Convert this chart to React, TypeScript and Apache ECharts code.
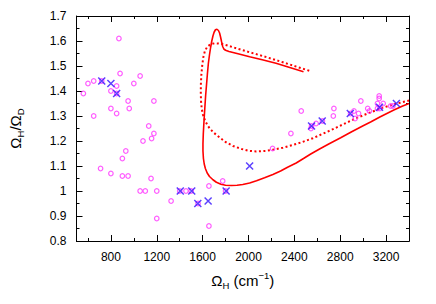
import React, { useEffect, useRef } from 'react';
import * as echarts from 'echarts';

const xMin = 500;
const xMax = 3400;
const xMajorTicks = [800, 1200, 1600, 2000, 2400, 2800, 3200];
const xMinorTicks = [600, 1000, 1400, 1800, 2200, 2600, 3000, 3400];
const yMin = 0.8;
const yMax = 1.7;
const yInterval = 0.1;

const solidCurve: number[][] = [
  [2480, 1.477], [2360, 1.494], [2240, 1.511], [2120, 1.525], [2010, 1.537], [1900, 1.550],
  [1830, 1.558], [1800, 1.563], [1785, 1.568], [1775, 1.578], [1765, 1.598], [1757, 1.615],
  [1748, 1.632], [1738, 1.642], [1725, 1.647], [1712, 1.645], [1700, 1.635], [1690, 1.620],
  [1680, 1.600], [1670, 1.575], [1660, 1.545], [1650, 1.510], [1642, 1.470], [1634, 1.425],
  [1626, 1.380], [1619, 1.330], [1612, 1.280], [1606, 1.230], [1603, 1.190], [1603, 1.160],
  [1607, 1.130], [1614, 1.108], [1624, 1.090], [1640, 1.072], [1660, 1.058], [1690, 1.045],
  [1720, 1.035], [1760, 1.027], [1800, 1.023], [1850, 1.022], [1900, 1.023], [1950, 1.026],
  [2010, 1.032], [2070, 1.041], [2140, 1.053], [2213, 1.066], [2280, 1.080], [2341, 1.095],
  [2416, 1.112], [2480, 1.130], [2543, 1.148], [2620, 1.168], [2700, 1.188], [2804, 1.213],
  [2900, 1.237], [3000, 1.261], [3065, 1.276], [3150, 1.297], [3268, 1.324], [3340, 1.339],
  [3400, 1.350],
];

const dottedCurve: number[][] = [
  [2530, 1.481], [2420, 1.497], [2300, 1.515], [2160, 1.535], [2010, 1.555], [1900, 1.570],
  [1830, 1.580], [1778, 1.587], [1740, 1.590], [1706, 1.591], [1670, 1.587], [1640, 1.577],
  [1620, 1.560], [1606, 1.535], [1596, 1.500], [1589, 1.465], [1585, 1.430], [1584, 1.395],
  [1586, 1.360], [1592, 1.330], [1603, 1.305], [1620, 1.283], [1640, 1.265], [1662, 1.250],
  [1700, 1.232], [1749, 1.214], [1800, 1.196], [1865, 1.180], [1940, 1.168], [2000, 1.161],
  [2068, 1.158], [2140, 1.160], [2213, 1.165], [2300, 1.173], [2387, 1.184], [2470, 1.196],
  [2561, 1.211], [2648, 1.229], [2750, 1.250], [2850, 1.272], [2938, 1.291], [3050, 1.312],
  [3170, 1.333], [3280, 1.348], [3400, 1.362],
];

const magentaCircles: number[][] = [
  [870, 1.61], [560, 1.39], [600, 1.43], [650, 1.44], [650, 1.30], [880, 1.47], [850, 1.42],
  [800, 1.40], [800, 1.33], [850, 1.31], [950, 1.36], [960, 1.33], [1000, 1.43], [1055, 1.46],
  [1175, 1.36], [1130, 1.26], [1175, 1.23], [1080, 1.20], [1155, 1.21], [930, 1.16],
  [710, 1.09], [800, 1.07], [900, 1.13], [900, 1.06], [950, 1.06], [1150, 1.05], [1055, 1.00],
  [1100, 1.00], [1200, 1.00], [1200, 0.89], [1325, 0.96], [1455, 1.00], [1655, 1.02],
  [1655, 0.86], [1775, 1.04],
  [2460, 1.32], [2370, 1.23], [2210, 1.17], [2545, 1.25], [2590, 1.27], [2745, 1.33],
  [2740, 1.30], [2920, 1.32], [2930, 1.29], [2960, 1.31], [2980, 1.36], [3040, 1.33],
  [3055, 1.32], [3140, 1.38], [3140, 1.37], [3125, 1.35], [3175, 1.35], [3125, 1.33],
  [3260, 1.34], [3240, 1.34],
  [720, 1.44], [850, 1.39], [1400, 1.00], [1500, 1.00], [1560, 0.95], [1800, 1.00],
  [2550, 1.26], [2645, 1.28], [2890, 1.31], [3145, 1.33],
];

const blueCrosses: number[][] = [
  [720, 1.44], [800, 1.43], [850, 1.39], [1405, 1.00], [1505, 1.00], [1558, 0.95],
  [1648, 0.96], [1805, 1.00], [2010, 1.10], [2550, 1.26], [2643, 1.28], [2888, 1.31],
  [3143, 1.335], [3290, 1.35],
];

const FONT = 'Liberation Sans, Arial, Helvetica, sans-serif';

export default function App() {
  const ref = useRef<HTMLDivElement>(null);
  useEffect(() => {
    const chart = echarts.init(ref.current!, null, { renderer: 'svg' });
    const axisLine = { show: true, onZero: false, lineStyle: { color: '#000', width: 1 } };
    const tickStyle = { color: '#000', width: 1 };
    const nameRich = {
      a: { fontSize: 15, fontFamily: FONT, color: '#000', lineHeight: 20 },
      b: { fontSize: 9.5, fontFamily: FONT, color: '#000', lineHeight: 11, verticalAlign: 'bottom' },
      c: { fontSize: 9.5, fontFamily: FONT, color: '#000', lineHeight: 11, verticalAlign: 'top' },
    };
    const xBase = { type: 'value', min: xMin, max: xMax, splitLine: { show: false }, axisLine };
    const xMajor = (pos: string, labels: boolean) => ({
      ...xBase,
      position: pos,
      axisTick: { show: true, inside: true, length: 6, lineStyle: tickStyle, customValues: xMajorTicks },
      axisLabel: labels
        ? {
            show: true, fontSize: 12, fontFamily: FONT, color: '#000', margin: 10,
            customValues: xMajorTicks, formatter: (v: number) => String(v),
          }
        : { show: false },
    });
    const xMinor = (pos: string) => ({
      ...xBase,
      position: pos,
      axisTick: { show: true, inside: true, length: 3, lineStyle: tickStyle, customValues: xMinorTicks },
      axisLabel: { show: false },
    });
    const yBase = {
      type: 'value', min: yMin, max: yMax, interval: yInterval, splitLine: { show: false }, axisLine,
      axisTick: { show: true, inside: true, length: 6, lineStyle: tickStyle },
      minorTick: { show: true, splitNumber: 2, length: 3, lineStyle: tickStyle },
    };
    chart.setOption({
      animation: false,
      grid: { left: 73, right: 27, top: 16, bottom: 63 },
      xAxis: [
        {
          ...xMajor('bottom', true),
          name: '{a|Ω}{b|H}{a| (cm}{c|−1}{a|)}',
          nameLocation: 'middle', nameGap: 29,
          nameTextStyle: { rich: nameRich },
        },
        xMinor('bottom'),
        xMajor('top', false),
        xMinor('top'),
      ],
      yAxis: [
        {
          ...yBase,
          axisLabel: {
            fontSize: 12, fontFamily: FONT, color: '#000', margin: 10,
            formatter: (v: number) => String(Math.round(v * 10) / 10),
          },
          name: '{a|Ω}{b|H}{a|/Ω}{b|D}',
          nameLocation: 'middle', nameGap: 51, nameRotate: 90,
          nameTextStyle: { rich: nameRich },
        },
        { ...yBase, position: 'right', axisLabel: { show: false } },
      ],
      series: [
        {
          type: 'line', data: dottedCurve, showSymbol: false,
          lineStyle: { color: '#ff0000', width: 2, type: [2, 2.5] },
          silent: true, z: 2,
        },
        {
          type: 'line', data: solidCurve, showSymbol: false,
          lineStyle: { color: '#ff0000', width: 1.6 },
          silent: true, z: 2,
        },
        {
          type: 'scatter', data: magentaCircles, symbol: 'circle', symbolSize: 4.5,
          itemStyle: { color: 'rgba(0,0,0,0)', borderColor: '#ff33ff', borderWidth: 1.2 },
          z: 3,
        },
        {
          type: 'scatter', data: blueCrosses, symbol: 'path://M0,0L10,10M10,0L0,10', symbolSize: 7,
          itemStyle: { color: 'none', borderColor: '#3311ff', borderWidth: 1.5 },
          z: 4,
        },
      ],
    });
    return () => chart.dispose();
  }, []);
  return <div ref={ref} style={{ position: 'absolute', left: 0, top: 0, width: 436, height: 304 }} />;
}
